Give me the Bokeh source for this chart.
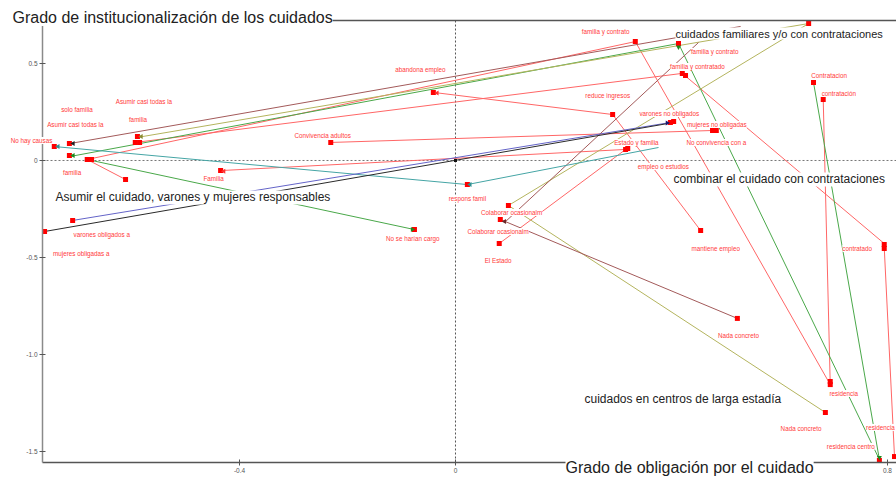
import math
from bokeh.plotting import figure
from bokeh.models import (ColumnDataSource, Range1d, FixedTicker, LinearAxis,
                          Label, LabelSet)
from bokeh.core.properties import value
from bokeh.embed import file_html
from bokeh.resources import INLINE

# ---------------- data ----------------
# category points (dimension 1, dimension 2)
pt_x = [-0.743, -0.715, -0.715, -0.682, -0.674, -0.589, -0.593, -0.585, -0.611,
        -0.435, -0.709, -0.761, -0.231, -0.041, -0.076, 0.022, 0.098, 0.083,
        0.081, 0.333, 0.413, 0.420, 0.426, 0.654, 0.663, 0.681, 0.291, 0.398,
        0.404, 0.476, 0.483, 0.315, 0.319, 0.454, 0.794, 0.794, 0.522,
        0.694, 0.694, 0.685, 0.785, 0.813]
pt_y = [0.072, 0.088, 0.026, 0.005, 0.005, 0.124, 0.093, 0.093, -0.098,
        -0.052, -0.309, -0.366, 0.093, 0.351, -0.356, -0.124, -0.232, -0.304,
        -0.428, 0.613, 0.603, 0.449, 0.438, 0.706, 0.402, 0.314, 0.237, 0.196,
        0.201, 0.155, 0.155, 0.057, 0.062, -0.361, -0.433, -0.454, -0.814,
        -1.155, -1.139, -1.299, -1.546, -1.526]

# category labels
lab_text = ["No hay causas", "solo familia", "Asumir casi todas la",
            "Asumir casi todas la", "familia", "familia", "Familia",
            "Convivencia adultos", "abandona empleo", "varones obligados a",
            "mujeres obligadas a", "No se harían cargo", "respons famil",
            "Colaborar ocasionalm", "Colaborar ocasionalm", "El Estado",
            "familia y contrato", "familia y contrato", "familia y contratado",
            "reduce ingresos", "varones no obligados", "mujeres no obligadas",
            "No convivencia con a", "Estado y familia", "empleo o estudios",
            "mantiene empleo", "Contratacion", "contratación", "contratado",
            "Nada concreto", "residencia", "Nada concreto",
            "residencia centro", "residencia"]
lab_x = [-0.785, -0.701, -0.704, -0.577, -0.588, -0.710, -0.448, -0.246,
         -0.065, -0.655, -0.693, -0.079, 0.022, 0.104, 0.079, 0.079,
         0.278, 0.480, 0.448, 0.282, 0.396, 0.484, 0.483, 0.335, 0.385,
         0.482, 0.692, 0.710, 0.744, 0.524, 0.719, 0.640, 0.732, 0.787]
lab_y = [0.103, 0.263, 0.186, 0.304, 0.211, -0.062, -0.093, 0.129,
         0.469, -0.381, -0.479, -0.402, -0.196, -0.268, -0.366, -0.516,
         0.665, 0.562, 0.485, 0.335, 0.242, 0.186, 0.093, 0.093, -0.031,
         -0.454, 0.438, 0.345, -0.454, -0.902, -1.201, -1.381, -1.474, -1.376]

# connecting lines
seg_x0 = [-0.682, -0.593, -0.682, -0.041, 0.291, -0.231, -0.435, 0.081,
          0.333, 0.420, 0.681, 0.794,
          -0.713, 0.413, 0.663, -0.682,
          -0.589, 0.098, 0.098,
          -0.713, 0.093, 0.083,
          -0.743, 0.022,
          -0.709, -0.761]
seg_y0 = [0.005, 0.093, 0.005, 0.351, 0.237, 0.093, -0.052, -0.428,
          0.613, 0.449, 0.314, -0.449,
          0.021, 0.603, 0.402, 0.005,
          0.119, -0.232, -0.232,
          0.088, -0.314, -0.304,
          0.072, -0.124,
          -0.309, -0.366]
seg_x1 = [0.333, 0.420, -0.611, 0.291, 0.454, 0.480, 0.315, 0.315,
          0.694, 0.794, 0.694, 0.813,
          0.413, 0.785, 0.785, -0.076,
          0.654, 0.654, 0.685,
          0.528, 0.450, 0.522,
          0.022, 0.376,
          0.398, 0.394]
seg_y1 = [0.613, 0.449, -0.098, 0.237, -0.361, 0.155, 0.057, 0.057,
          -1.155, -0.428, -1.155, -1.526,
          0.603, -1.541, -1.541, -0.356,
          0.706, 0.706, -1.299,
          0.691, 0.608, -0.814,
          -0.124, 0.067,
          0.196, 0.191]
seg_color = (["#ff6666"] * 12 + ["#4aa84a"] * 4 + ["#b4b45e"] * 3 +
             ["#a35a5a"] * 3 + ["#45a5a5"] * 2 + ["#6464c8", "#2a2a2a"])

# small arrow heads at line ends
arr_x = [-0.736, -0.708, -0.708, -0.582, -0.034, -0.429, 0.027, 0.091,
         -0.080, 0.392, 0.413, 0.785]
arr_y = [0.072, 0.088, 0.026, 0.124, 0.348, -0.056, -0.124, -0.314,
         -0.356, 0.193, 0.585, -1.530]
arr_color = ["#2f8f8f", "#222222", "#1f8a1f", "#8a8a30", "#ff3333", "#ff3333",
             "#2f8f8f", "#6a2a2a", "#1f8a1f", "#1a1a70", "#1f8a1f", "#1f8a1f"]
arr_angle = [math.pi / 2] * 8 + [-math.pi / 2] * 2 + [math.pi] * 2

# axis extents and ticks
x_min, x_max = -0.7648, 0.8167
y_min, y_max = -1.5567, 0.7216
x_ticks = [-0.4, 0, 0.4, 0.8]
x_tick_labels = ["-0.4", "0", "0.4", "0.8"]
y_ticks = [0.5, 0, -0.5, -1.0, -1.5]
y_tick_labels = ["0.5", "0", "-0.5", "-1.0", "-1.5"]

# ---------------- figure ----------------
# the frame fills the whole canvas; the axes sit at fixed data locations
p = figure(width=896, height=481,
           x_range=Range1d(-0.8426, 0.8167), y_range=Range1d(-1.6546, 0.8247),
           output_backend="svg", toolbar_location=None, min_border=0)
p.outline_line_color = None
p.grid.visible = False
p.title.visible = False

font = "Liberation Sans"
p.xaxis.fixed_location = y_min
p.yaxis.fixed_location = x_min
p.xaxis.bounds = (x_min, x_max)
p.yaxis.bounds = (y_min, y_max)
for ax, ticks, labels in ((p.xaxis[0], x_ticks, x_tick_labels),
                          (p.yaxis[0], y_ticks, y_tick_labels)):
    ax.ticker = FixedTicker(ticks=ticks)
    ax.major_label_overrides = {t: l for t, l in zip(ticks, labels)}
    ax.major_label_text_font = font
    ax.major_label_text_font_size = "6.5px"
    ax.major_label_text_color = "#555555"
    ax.major_tick_in = 3
    ax.major_tick_out = 3
    ax.major_tick_line_color = "#555555"
    ax.minor_tick_line_color = None
    ax.major_label_standoff = 2
p.xaxis.axis_line_color = "#555555"
p.xaxis.axis_line_width = 1.5
p.yaxis.axis_line_color = "#8a8a8a"
p.yaxis.axis_line_width = 1.5

top = LinearAxis(ticker=FixedTicker(ticks=[]), major_label_text_font_size="0px",
                 major_tick_line_color=None, minor_tick_line_color=None,
                 axis_line_color="#555555", axis_line_width=1.5,
                 fixed_location=y_max, bounds=(x_min, x_max))
p.add_layout(top, "above")

# dotted origin lines across the axis box
p.segment(x0=[0, x_min], y0=[y_min, 0], x1=[0, x_max], y1=[y_max, 0],
          line_color=["#555555", "#777777"], line_dash="2 2", line_width=1)

seg_src = ColumnDataSource(dict(x0=seg_x0, y0=seg_y0, x1=seg_x1, y1=seg_y1,
                                c=seg_color))
p.segment("x0", "y0", "x1", "y1", source=seg_src, line_color="c", line_width=1)

p.scatter(pt_x, pt_y, marker="square", size=5, fill_color="#ff0000",
          line_color=None)
p.scatter([0], [0], marker="square", size=3, fill_color="#111111",
          line_color=None)
p.scatter(arr_x, arr_y, marker="triangle", size=5, angle=arr_angle,
          fill_color=arr_color, line_color=None)

lab_src = ColumnDataSource(dict(x=lab_x, y=lab_y, t=lab_text))
p.add_layout(LabelSet(x="x", y="y", text="t", source=lab_src,
                      text_align="center", text_baseline="middle",
                      text_font=value(font), text_font_size=value("6.3px"),
                      text_color=value("#ff3a3a"),
                      background_fill_color=value("white")))

big = [("Grado de institucionalización de los cuidados", -0.8204, 0.737, "16px"),
       ("Grado de obligación por el cuidado", 0.2037, -1.5825, "16px"),
       ("cuidados familiares y/o con contrataciones", 0.4074, 0.6546, "11px"),
       ("Asumir el cuidado, varones y mujeres responsables", -0.7407, -0.1907, "12px"),
       ("combinar el cuidado con contrataciones", 0.4037, -0.0979, "12px"),
       ("cuidados en centros de larga estadía", 0.2389, -1.2268, "12px")]
for txt, x, y, fs in big:
    p.add_layout(Label(x=x, y=y, text=txt, text_font=font, text_font_size=fs,
                       text_color="#222222", text_align="left",
                       text_baseline="middle", background_fill_color="white",
                       background_fill_alpha=1.0))

open("out.html", "w").write(file_html(p, INLINE))
